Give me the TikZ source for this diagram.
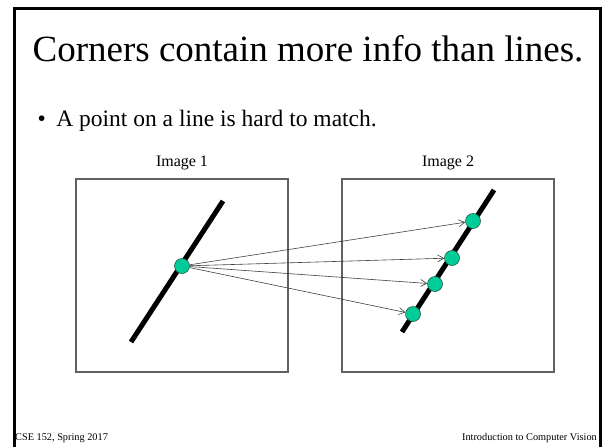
\documentclass[tikz,border=0pt]{standalone}
\usepackage{fontspec}
\setmainfont{Liberation Serif}
\usetikzlibrary{arrows.meta}
\definecolor{dotgreen}{RGB}{0,204,153}
\definecolor{dotedge}{RGB}{40,90,70}
\begin{document}
\begin{tikzpicture}[x=1pt,y=-1pt,>={Straight Barb[length=6pt,width=7pt]},
  dot/.style={circle,draw=dotedge,line width=0.6pt,fill=dotgreen,minimum size=15pt,inner sep=0pt},
  imgbox/.style={draw=black!62,line width=1.2pt},
  match/.style={->,draw=black!75,line width=0.6pt}]
  \useasboundingbox (0,0) rectangle (604,447);
  % slide frame
  \draw[line width=3pt] (14,447) -- (14,8) -- (600,8) -- (600,447);
  \node[font=\fontsize{37}{40}\selectfont] (title) at (308,49) {Corners contain more info than lines.};
  \node[anchor=base west,font=\fontsize{23.5}{28}\selectfont] (bullet) at (34,126) {\textbullet\hspace{0.45em}A point on a line is hard to match.};
  % images
  \draw[imgbox] (76,179) rectangle (288,372);
  \draw[imgbox] (342,179) rectangle (554,372);
  \node[anchor=base,font=\fontsize{16}{18}\selectfont] (lab1) at (182,166) {Image 1};
  \node[anchor=base,font=\fontsize{16}{18}\selectfont] (lab2) at (448,166) {Image 2};
  \draw[line width=5pt] (131,342) -- (223,201);
  \draw[line width=5pt] (402,332) -- (494,190);
  \node[dot] (p0) at (182,266) {};
  \node[dot] (q1) at (473,221) {};
  \node[dot] (q2) at (452,258) {};
  \node[dot] (q3) at (435,284) {};
  \node[dot] (q4) at (413,314) {};
  \foreach \q in {q1,q2,q3,q4}
    \draw[match] (p0) -- (\q);
  % footer
  \node[anchor=base west,inner sep=0pt,font=\fontsize{10.3}{12}\selectfont] (foot1) at (15,440) {CSE 152, Spring 2017};
  \node[anchor=base east,inner sep=0pt,font=\fontsize{10.3}{12}\selectfont] (foot2) at (597,440) {Introduction to Computer Vision};
\end{tikzpicture}
\end{document}
